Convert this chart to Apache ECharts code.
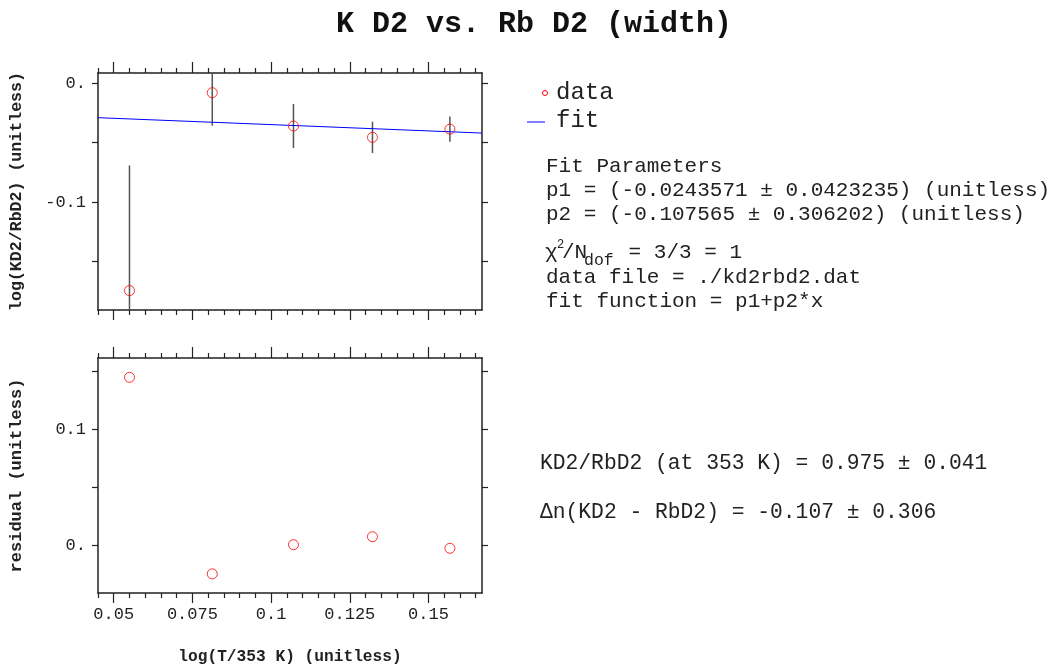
<!DOCTYPE html>
<html>
<head>
<meta charset="utf-8">
<script src="https://cdn.jsdelivr.net/npm/echarts@6/dist/echarts.min.js"></script>
<style>html,body{margin:0;padding:0;background:#fff;}#c{width:1053px;height:666px;}</style>
</head>
<body>
<div id="c"></div>
<script>
// ---- data ----
const xData = [0.0550, 0.0813, 0.1071, 0.1322, 0.1568];
const yData = [-0.1742, -0.0081, -0.0361, -0.0456, -0.0387];
const yErr = [0.105, 0.0277, 0.0185, 0.0131, 0.0105];
const residuals = [0.1448, -0.0249, 0.0003, 0.0072, -0.0028];
const fitX = [0.045, 0.167];
const fitY = [-0.0291, -0.0420];
const xMajorTicks = [0.05, 0.075, 0.1, 0.125, 0.15];
const xMajorLabels = ['0.05', '0.075', '0.1', '0.125', '0.15'];
const xMinorTicks = [0.045,0.055,0.06,0.065,0.07,0.08,0.085,0.09,0.095,0.105,0.11,0.115,0.12,0.13,0.135,0.14,0.145,0.155,0.16,0.165];
const topYTicks = [-0.15, -0.1, -0.05, 0];
const topYLabelVals = [-0.1, 0];
const topYLabels = ['-0.1', '0.'];
const botYTicks = [0, 0.05, 0.1, 0.15];
const botYLabelVals = [0, 0.1];
const botYLabels = ['0.', '0.1'];

const MONO = '"Liberation Mono", "Courier New", monospace';
const FRAME = {color: '#222', width: 1.5};
const TICK = {color: '#222', width: 1.2};
const X_MIN = 0.045, X_MAX = 0.167;

function labelFmt(vals, labels) {
  return function (v) {
    for (let i = 0; i < vals.length; i++) if (Math.abs(v - vals[i]) < 1e-9) return labels[i];
    return '';
  };
}

function xAxesFor(grid, withLabels) {
  const base = {type: 'value', gridIndex: grid, min: X_MIN, max: X_MAX, splitLine: {show: false}};
  return [
    Object.assign({}, base, {
      position: 'bottom',
      axisLine: {show: true, onZero: false, lineStyle: FRAME},
      axisTick: {show: true, customValues: xMajorTicks, length: 10, lineStyle: TICK},
      axisLabel: {show: withLabels, customValues: xMajorTicks, formatter: labelFmt(xMajorTicks, xMajorLabels),
        margin: 13, fontFamily: MONO, fontSize: 17, color: '#222'},
      name: withLabels ? 'log(T/353 K) (unitless)' : '',
      nameLocation: 'middle', nameGap: 56,
      nameTextStyle: {fontFamily: MONO, fontSize: 16.2, fontWeight: 'bold', color: '#222'}
    }),
    Object.assign({}, base, {
      position: 'bottom',
      axisLine: {show: false, onZero: false},
      axisTick: {show: true, customValues: xMinorTicks, length: 5, lineStyle: TICK},
      axisLabel: {show: false}
    }),
    Object.assign({}, base, {
      position: 'top',
      axisLine: {show: true, onZero: false, lineStyle: FRAME},
      axisTick: {show: true, customValues: xMajorTicks, length: 11, lineStyle: TICK},
      axisLabel: {show: false}
    }),
    Object.assign({}, base, {
      position: 'top',
      axisLine: {show: false, onZero: false},
      axisTick: {show: true, customValues: xMinorTicks, length: 5, lineStyle: TICK},
      axisLabel: {show: false}
    })
  ];
}

function yAxesFor(grid, min, max, ticks, lvals, labels, name, nameSize) {
  const base = {type: 'value', gridIndex: grid, min: min, max: max, splitLine: {show: false}};
  return [
    Object.assign({}, base, {
      position: 'left',
      axisLine: {show: true, onZero: false, lineStyle: FRAME},
      axisTick: {show: true, customValues: ticks, length: 6, lineStyle: TICK},
      axisLabel: {show: true, customValues: lvals, formatter: labelFmt(lvals, labels),
        margin: 12, fontFamily: MONO, fontSize: 17, color: '#222'},
      name: name, nameLocation: 'middle', nameGap: 73,
      nameTextStyle: {fontFamily: MONO, fontSize: nameSize, fontWeight: 'bold', color: '#222'}
    }),
    Object.assign({}, base, {
      position: 'right',
      axisLine: {show: true, onZero: false, lineStyle: FRAME},
      axisTick: {show: true, customValues: ticks, length: 6, lineStyle: TICK},
      axisLabel: {show: false}
    })
  ];
}

const errData = xData.map((x, i) => [x, yData[i] - yErr[i], yData[i] + yErr[i]]);

function txt(text, x, y, size, extra) {
  return {type: 'text', silent: true, style: Object.assign({
    text: text, x: x, y: y, fill: '#222',
    font: size + 'px ' + MONO, textAlign: 'left', textVerticalAlign: 'middle'
  }, extra || {})};
}

const chart = echarts.init(document.getElementById('c'), null, {renderer: 'canvas'});
chart.setOption({
  animation: false,
  backgroundColor: '#fff',
  title: {
    text: 'K D2 vs. Rb D2 (width)', left: 529, top: 4, textAlign: 'center',
    textStyle: {fontFamily: MONO, fontSize: 30, fontWeight: 'bold', color: '#111'}
  },
  grid: [
    {left: 98, top: 73, width: 384, height: 237},
    {left: 98, top: 358, width: 384, height: 237}
  ],
  xAxis: xAxesFor(0, false).concat(xAxesFor(1, true)),
  yAxis: yAxesFor(0, -0.1905, 0.0084, topYTicks, topYLabelVals, topYLabels, 'log(KD2/RbD2) (unitless)', 16.6)
    .concat(yAxesFor(1, -0.0414, 0.1615, botYTicks, botYLabelVals, botYLabels, 'residual (unitless)', 17)),
  series: [
    {
      type: 'custom', xAxisIndex: 0, yAxisIndex: 0, z: 2,
      data: errData, encode: {x: 0, y: [1, 2]},
      renderItem: function (params, api) {
        const cs = params.coordSys;
        const lo = api.coord([api.value(0), api.value(1)]);
        const hi = api.coord([api.value(0), api.value(2)]);
        const clamp = v => Math.min(Math.max(v, cs.y), cs.y + cs.height);
        return {type: 'line', shape: {x1: lo[0], y1: clamp(lo[1]), x2: hi[0], y2: clamp(hi[1])},
          style: {stroke: '#555', lineWidth: 1.5}};
      }
    },
    {
      type: 'line', xAxisIndex: 0, yAxisIndex: 0, z: 3,
      data: fitX.map((x, i) => [x, fitY[i]]),
      showSymbol: false, lineStyle: {color: '#0000ff', width: 1}
    },
    {
      type: 'scatter', xAxisIndex: 0, yAxisIndex: 0, z: 4,
      data: xData.map((x, i) => [x, yData[i]]),
      symbol: 'circle', symbolSize: 10,
      itemStyle: {color: 'rgba(0,0,0,0)', borderColor: '#ff0000', borderWidth: 1}
    },
    {
      type: 'scatter', xAxisIndex: 4, yAxisIndex: 2, z: 4,
      data: xData.map((x, i) => [x, residuals[i]]),
      symbol: 'circle', symbolSize: 10,
      itemStyle: {color: 'rgba(0,0,0,0)', borderColor: '#ff0000', borderWidth: 1}
    }
  ],
  graphic: [
    {type: 'circle', silent: true, shape: {cx: 545, cy: 93, r: 2.5}, style: {fill: 'none', stroke: '#ff0000', lineWidth: 1}},
    txt('data', 556, 93, 24),
    {type: 'line', silent: true, shape: {x1: 527, y1: 122, x2: 545, y2: 122}, style: {stroke: '#0000ff', lineWidth: 1}},
    txt('fit', 556, 121, 24),
    txt('Fit Parameters', 546, 166, 21),
    txt('p1 = (-0.0243571 \u00b1 0.0423235) (unitless)', 546, 190, 21),
    txt('p2 = (-0.107565 \u00b1 0.306202) (unitless)', 546, 214, 21),
    txt('\u03c7', 545, 252, 21),
    txt('2', 557, 245, 12),
    txt('/N', 562, 252, 21),
    txt('dof', 584, 261, 16.5),
    txt(' = 3/3 = 1', 616, 252, 21),
    txt('data file = ./kd2rbd2.dat', 546, 277, 21),
    txt('fit function = p1+p2*x', 546, 301, 21),
    txt('KD2/RbD2 (at 353 K) = 0.975 \u00b1 0.041', 540, 463, 21.3),
    txt('\u0394n(KD2 - RbD2) = -0.107 \u00b1 0.306', 540, 512, 21.3)
  ]
});
</script>
</body>
</html>
